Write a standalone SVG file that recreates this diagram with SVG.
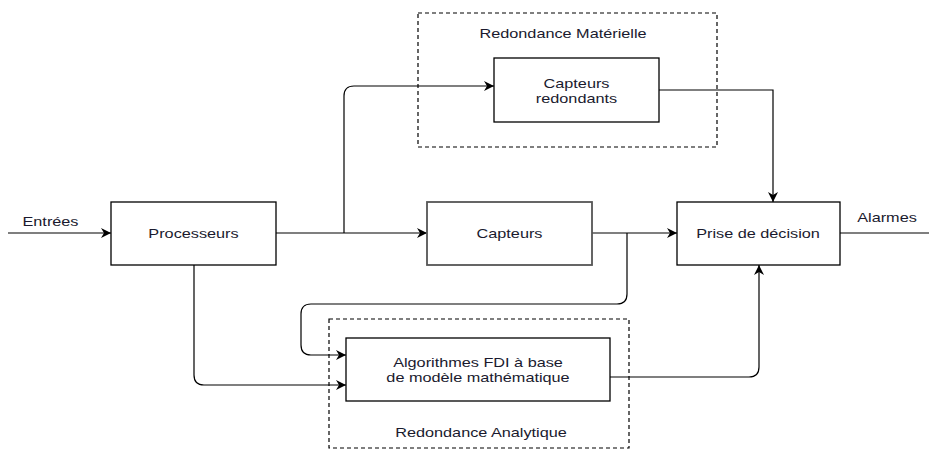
<svg xmlns="http://www.w3.org/2000/svg" width="929" height="450" viewBox="0 0 929 450">
  <defs>
    <marker id="arrow" viewBox="0 0 10 10" refX="10" refY="5" markerWidth="10" markerHeight="10" markerUnits="userSpaceOnUse" orient="auto">
      <path d="M0,0 L10,5 L0,10 L3,5 Z" fill="#000"/>
    </marker>
    <style>
      .box { fill: #fff; stroke: #000; stroke-width: 1.3; }
      .group { fill: none; stroke: #000; stroke-width: 1.2; stroke-dasharray: 4 3; }
      .edge { fill: none; stroke: #000; stroke-width: 1.2; }
      .lbl { font-family: "Liberation Sans", Arial, sans-serif; font-size: 12.6px; fill: #1a1a2e; text-anchor: middle; }
    </style>
  </defs>

  <rect width="929" height="450" fill="#fff"/>

  <!-- dashed containers -->
  <g id="group-materielle">
    <rect class="group" x="418" y="13" width="299" height="134"/>
    <text class="lbl" transform="translate(563,38) scale(1.29,1)">Redondance Matérielle</text>
  </g>
  <g id="group-analytique">
    <rect class="group" x="329" y="319" width="300" height="129"/>
    <text class="lbl" transform="translate(481,437) scale(1.29,1)">Redondance Analytique</text>
  </g>

  <!-- connectors -->
  <g id="connectors">
    <path class="edge" d="M8,233 H111" marker-end="url(#arrow)"/>
    <path class="edge" d="M276,233 H427" marker-end="url(#arrow)"/>
    <path class="edge" d="M344,233 V96 Q344,86 354,86 H494" marker-end="url(#arrow)"/>
    <path class="edge" d="M592,233 H677" marker-end="url(#arrow)"/>
    <path class="edge" d="M659,90 H773 V202" marker-end="url(#arrow)"/>
    <path class="edge" d="M627,233 V294 Q627,304 617,304 H311 Q301,304 301,314 V345 Q301,355 311,355 H346" marker-end="url(#arrow)"/>
    <path class="edge" d="M194,265 V375 Q194,385 204,385 H346" marker-end="url(#arrow)"/>
    <path class="edge" d="M610,377 H749 Q759,377 759,367 V265" marker-end="url(#arrow)"/>
    <path class="edge" d="M840,233 H929"/>
  </g>

  <text class="lbl" transform="translate(50.5,226) scale(1.29,1)">Entrées</text>
  <text class="lbl" transform="translate(887,222) scale(1.29,1)">Alarmes</text>

  <!-- nodes -->
  <g id="processeurs">
    <rect class="box" x="111" y="202" width="165" height="63"/>
    <text class="lbl" transform="translate(193.5,238) scale(1.29,1)">Processeurs</text>
  </g>
  <g id="capteurs">
    <rect class="box" x="427" y="202" width="165" height="63" stroke="#444" style="stroke:#555;stroke-width:1.8"/>
    <text class="lbl" transform="translate(509.5,238) scale(1.29,1)">Capteurs</text>
  </g>
  <g id="capteurs-redondants">
    <rect class="box" x="494" y="58" width="165" height="64"/>
    <text class="lbl" transform="translate(576.5,87.5) scale(1.29,1)">Capteurs</text>
    <text class="lbl" transform="translate(576.5,102.5) scale(1.29,1)">redondants</text>
  </g>
  <g id="prise-de-decision">
    <rect class="box" x="677" y="202" width="163" height="63"/>
    <text class="lbl" transform="translate(758,238) scale(1.29,1)">Prise de décision</text>
  </g>
  <g id="algorithmes-fdi">
    <rect class="box" x="346" y="338" width="264" height="63"/>
    <text class="lbl" transform="translate(478,366.5) scale(1.29,1)">Algorithmes FDI à base</text>
    <text class="lbl" transform="translate(478,381.5) scale(1.29,1)">de modèle mathématique</text>
  </g>
</svg>
